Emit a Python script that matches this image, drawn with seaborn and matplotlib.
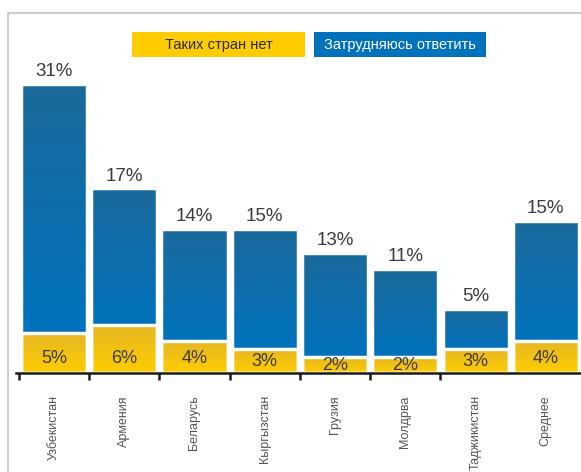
import numpy as np
import pandas as pd
import seaborn as sns
import matplotlib
matplotlib.use("Agg")
import matplotlib.pyplot as plt
from matplotlib.colors import LinearSegmentedColormap
from matplotlib.patches import Rectangle
from matplotlib.lines import Line2D

# Data
countries = ["Узбекистан", "Армения", "Беларусь", "Кыргызстан",
             "Грузия", "Молдрва", "Таджикистан", "Среднее"]
no_countries = [5, 6, 4, 3, 2, 2, 3, 4]        # Таких стран нет
hard_to_say = [31, 17, 14, 15, 13, 11, 5, 15]  # Затрудняюсь ответить

legend_labels = ["Таких стран нет", "Затрудняюсь ответить"]

YELLOW_TOP, YELLOW_BOTTOM = "#e6b624", "#ffcd00"
BLUE_TOP, BLUE_BOTTOM = "#1b6a9b", "#0072bd"
TEXT = "#3c3c3c"

W, H = 581, 472


def fill_gradient(ax, patch, y0, y1, top, bottom):
    # vertical colour gradient clipped to the bar shape
    x0 = patch.get_x()
    w = patch.get_width()
    cmap = LinearSegmentedColormap.from_list("g", [bottom, top])
    grad = np.linspace(0, 1, 256).reshape(-1, 1)
    im = ax.imshow(grad, extent=(x0, x0 + w, y0, y1), origin="lower",
                   cmap=cmap, aspect="auto", zorder=1)
    im.set_clip_path(patch)


def main():
    df = pd.DataFrame({"country": countries,
                       "none": no_countries,
                       "unsure": hard_to_say})
    df["total"] = df["none"] + df["unsure"]

    sns.set_style("white")
    plt.rcParams["font.family"] = ["Liberation Sans", "DejaVu Sans"]

    fig = plt.figure(figsize=(W / 100, H / 100), dpi=100)
    ax = fig.add_axes([16 / W, 1 - 373 / H, 1 - 16 / W, (373 - 60) / H])

    sns.barplot(data=df, x="country", y="total", color=BLUE_BOTTOM,
                width=0.94, ax=ax)
    sns.barplot(data=df, x="country", y="none", color=YELLOW_BOTTOM,
                width=0.94, ax=ax)

    n = len(df)
    blue_bars = ax.patches[:n]
    yellow_bars = ax.patches[n:2 * n]
    for i in range(n):
        fill_gradient(ax, blue_bars[i], df["none"][i], df["total"][i],
                      BLUE_TOP, BLUE_BOTTOM)
        fill_gradient(ax, yellow_bars[i], 0, df["none"][i],
                      YELLOW_TOP, YELLOW_BOTTOM)
    for p in ax.patches:
        p.set_facecolor("none")
        p.set_edgecolor("white")
        p.set_linewidth(2.5)
        p.set_zorder(3)

    # value labels
    for i in range(n):
        ax.text(i, df["total"][i] + 0.45, f"{df['unsure'][i]}%",
                ha="center", va="bottom", fontsize=13.5, color=TEXT)
        ax.text(i, min(1.75, df["none"][i] / 2 - 0.05), f"{df['none'][i]}%",
                ha="center", va="center", fontsize=13, color=TEXT,
                zorder=4)

    ax.set_xlim(-0.54, n - 0.5)
    ax.set_ylim(0, 39)
    ax.set_xlabel("")
    ax.set_ylabel("")
    ax.set_yticks([])

    ax.set_xticks(range(n))
    ax.set_xticklabels(countries, rotation=90, fontsize=9, color="#555555")
    ax.set_xticks(np.arange(n - 1) - 0.5, minor=True)
    ax.tick_params(axis="x", which="major", length=0, pad=16)
    ax.tick_params(axis="x", which="minor", bottom=True, length=5, width=1.8,
                   color="#1a1a1a", direction="out")

    for side in ["left", "top", "right"]:
        ax.spines[side].set_visible(False)
    ax.spines["bottom"].set_color("#1a1a1a")
    ax.spines["bottom"].set_linewidth(1.8)
    ax.spines["bottom"].set_zorder(5)

    # light frame on the left and top
    fig.add_artist(Line2D([8 / W, 8 / W], [0, 1 - 13 / H],
                          transform=fig.transFigure, color="#cccccc", lw=1.5))
    fig.add_artist(Line2D([8 / W, 1], [1 - 13 / H, 1 - 13 / H],
                          transform=fig.transFigure, color="#cccccc", lw=1.5))

    # legend boxes
    boxes = [(132, 305, "#ffcc00", "#2a2a2a"), (314, 486, "#0072bc", "white")]
    for label, (x0, x1, fc, tc) in zip(legend_labels, boxes):
        fig.add_artist(Rectangle((x0 / W, 1 - 57 / H), (x1 - x0) / W, 25 / H,
                                 transform=fig.transFigure, facecolor=fc,
                                 edgecolor="none"))
        fig.text((x0 + x1) / 2 / W, 1 - 44.5 / H, label, ha="center",
                 va="center", fontsize=10.5, color=tc)

    fig.savefig("out.png", dpi=100)


if __name__ == "__main__":
    main()
